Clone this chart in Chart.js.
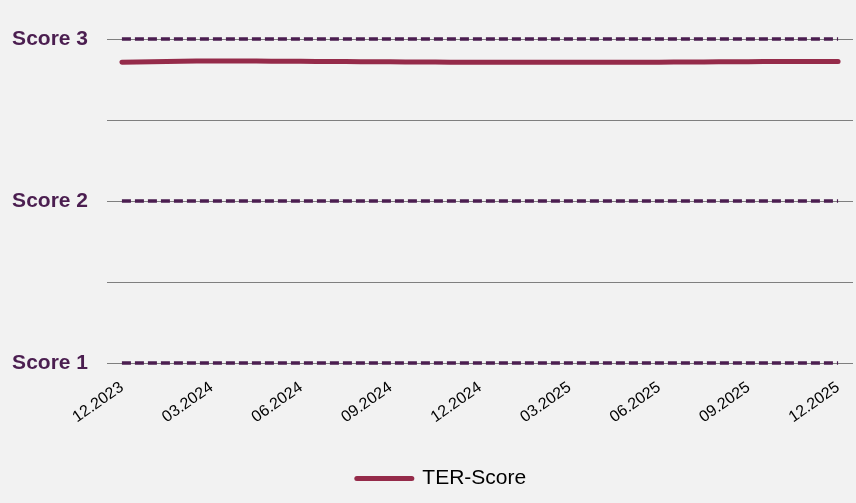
<!DOCTYPE html>
<html>
<head>
<meta charset="utf-8">
<script src="https://cdn.jsdelivr.net/npm/chart.js@4.4.0/dist/chart.umd.min.js"></script>
<style>
  html, body { margin: 0; padding: 0; background: #f2f2f2; }
  #wrap { width: 856px; height: 503px; }
</style>
</head>
<body>
<div id="wrap"><canvas id="c" width="856" height="503"></canvas></div>
<script>
const months = ['12.2023','01.2024','02.2024','03.2024','04.2024','05.2024','06.2024','07.2024','08.2024','09.2024','10.2024','11.2024','12.2024','01.2025','02.2025','03.2025','04.2025','05.2025','06.2025','07.2025','08.2025','09.2025','10.2025','11.2025','12.2025'];
const terScore = [2.857, 2.860, 2.863, 2.864, 2.864, 2.863, 2.862, 2.861, 2.860, 2.859, 2.858, 2.857, 2.857, 2.856, 2.856, 2.856, 2.856, 2.856, 2.857, 2.858, 2.859, 2.860, 2.861, 2.861, 2.861];
const scoreLevels = [1, 2, 3];
const scoreLabels = ['Score 1', 'Score 2', 'Score 3'];
const gridValues = [1, 1.5, 2, 2.5, 3];

const purple = '#4b1e50';
const crimson = '#952b4a';
const FONT = "'Liberation Sans', Arial, sans-serif";

const levelSets = scoreLevels.map(v => ({
  label: 'level' + v,
  data: months.map(() => v),
  borderColor: purple,
  borderWidth: 3.5,
  borderDash: [9, 4],
  borderCapStyle: 'butt',
  pointRadius: 0,
  fill: false,
  clip: false,
  isLevel: true
}));

const legendShift = {
  id: 'legendShift',
  afterLayout(chart) {
    if (chart.legend) { chart.legend.left += 9; chart.legend.right += 9; }
  }
};

new Chart(document.getElementById('c'), {
  type: 'line',
  plugins: [legendShift],
  data: {
    labels: months,
    datasets: [
      ...levelSets,
      {
        label: 'TER-Score',
        data: terScore,
        borderColor: crimson,
        backgroundColor: crimson,
        borderWidth: 5,
        borderCapStyle: 'round',
        pointRadius: 0,
        tension: 0.3,
        fill: false,
        clip: false
      }
    ]
  },
  options: {
    responsive: false,
    animation: false,
    layout: { padding: { left: 12, right: 3, top: 39, bottom: 4 } },
    plugins: {
      tooltip: { enabled: false },
      legend: {
        position: 'bottom',
        labels: {
          usePointStyle: true,
          pointStyle: 'line',
          pointStyleWidth: 55,
          boxHeight: 5,
          color: '#000',
          font: { family: FONT, size: 21 },
          padding: 12,
          filter: (item, data) => !data.datasets[item.datasetIndex].isLevel,
          generateLabels: (chart) => chart.data.datasets.map((ds, i) => ({
            text: ds.label,
            fillStyle: crimson,
            strokeStyle: crimson,
            lineWidth: 5,
            lineCap: 'round',
            pointStyle: 'line',
            hidden: false,
            datasetIndex: i
          }))
        }
      }
    },
    scales: {
      x: {
        offset: true,
        grid: { display: false, drawTicks: false },
        border: { display: false },
        afterFit: (axis) => { axis.height = 93; axis.paddingLeft = 0; axis.paddingRight = 0; },
        ticks: {
          autoSkip: false,
          maxRotation: 35,
          minRotation: 35,
          padding: 15,
          color: '#000',
          font: { family: FONT, size: 16 },
          callback: function (val, idx) { return idx % 3 === 0 ? this.getLabelForValue(val) : ''; }
        }
      },
      y: {
        min: 1,
        max: 3,
        afterBuildTicks: (axis) => { axis.ticks = gridValues.map(v => ({ value: v })); },
        afterFit: (axis) => { axis.width = 95; },
        grid: { color: '#7f7f7f', lineWidth: 1, drawTicks: false },
        border: { display: false },
        ticks: {
          padding: 19,
          color: purple,
          font: { family: FONT, size: 21, weight: 'bold' },
          callback: (v) => {
            const i = scoreLevels.indexOf(v);
            return i >= 0 ? scoreLabels[i] : '';
          }
        }
      }
    }
  }
});
</script>
</body>
</html>
